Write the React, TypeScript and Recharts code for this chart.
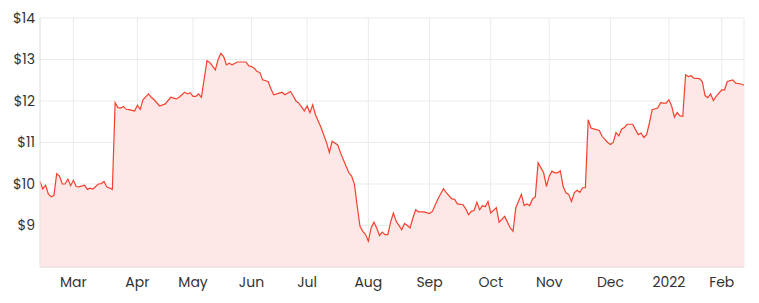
import React from 'react';
import { AreaChart, Area, XAxis, YAxis, CartesianGrid } from 'recharts';

// trading-day index (0 = mid Feb 2021) and closing price
const days = [
  0, 1, 2, 3, 4, 5, 6, 7, 8, 9, 10, 11, 12, 13, 14, 16, 17, 18, 19, 21, 22, 23, 24, 26,
  27, 28, 29, 30, 31, 32, 34, 35, 36, 37, 39, 40, 41, 43, 45, 47, 48, 49, 50, 52, 53, 54,
  55, 56, 57, 58, 60, 61, 63, 64, 65, 66, 67, 68, 69, 71, 72, 74, 75, 76, 77, 78, 79, 80,
  82, 83, 84, 86, 87, 88, 90, 91, 92, 93, 95, 96, 97, 98, 99, 101, 103, 104, 105, 107,
  108, 110, 111, 112, 113, 114, 115, 116, 117, 118, 119, 120, 121, 122, 123, 124, 125,
  126, 127, 128, 130, 131, 132, 133, 134, 135, 136, 138, 140, 141, 143, 145, 146, 148,
  149, 150, 152, 153, 154, 155, 156, 157, 158, 159, 160, 161, 162, 164, 165, 167, 169,
  170, 171, 173, 174, 175, 176, 177, 178, 179, 181, 182, 183, 184, 185, 186, 187, 188,
  189, 190, 191, 192, 193, 194, 195, 196, 197, 198, 199, 201, 202, 204, 205, 206, 207,
  208, 209, 210, 211, 213, 214, 215, 216, 217, 218, 219, 220, 222, 223, 224, 225, 226,
  227, 228, 229, 230, 231, 232, 233, 234, 235, 237, 238, 239, 240, 241, 242, 243, 245,
  246, 247, 249, 250, 252, 253,
];

const prices = [
  10.06, 9.88, 9.97, 9.76, 9.69, 9.72, 10.25, 10.19, 10.0, 10.0, 10.12, 9.96, 10.09, 9.94,
  9.93, 9.97, 9.87, 9.9, 9.88, 10.0, 10.01, 10.06, 9.93, 9.87,
  11.96, 11.84, 11.83, 11.87, 11.8, 11.79, 11.76, 11.9, 11.8, 12.03, 12.17, 12.09, 12.03,
  11.88, 11.93, 12.09, 12.07, 12.05, 12.09, 12.21, 12.17, 12.2,
  12.11, 12.11, 12.17, 12.09, 12.97, 12.93, 12.75, 13.0, 13.15, 13.07, 12.87, 12.91, 12.87,
  12.94, 12.94, 12.94, 12.85, 12.83, 12.79, 12.71, 12.69, 12.51,
  12.47, 12.29, 12.15, 12.19, 12.21, 12.15, 12.23, 12.12, 12.0, 11.95, 11.76, 11.88, 11.72,
  11.91, 11.67, 11.36, 10.99, 10.76, 11.03, 10.94,
  10.75, 10.43, 10.27, 10.19, 9.99, 9.46, 8.98, 8.86, 8.78, 8.62, 8.94, 9.08, 8.94, 8.76,
  8.84, 8.78, 8.78,
  9.08, 9.3, 9.1, 8.9, 9.05, 9.0, 8.94, 9.18, 9.38, 9.33, 9.33, 9.29, 9.34, 9.64, 9.89,
  9.79, 9.64,
  9.63, 9.52, 9.5, 9.4, 9.26, 9.34, 9.36, 9.56, 9.38, 9.48, 9.45, 9.58, 9.3, 9.43, 9.08,
  9.22, 8.94,
  8.86, 9.43, 9.75, 9.48, 9.52, 9.48, 9.64, 9.69, 10.51, 10.27, 9.94, 10.19, 10.31, 10.27,
  10.27, 10.32, 9.94,
  9.79, 9.75, 9.58, 9.79, 9.85, 9.8, 9.91, 9.91, 11.55, 11.35, 11.33, 11.29, 11.15, 11.0,
  10.95, 11.0, 11.24,
  11.16, 11.32, 11.36, 11.44, 11.44, 11.31, 11.19, 11.23, 11.12, 11.19, 11.47, 11.79, 11.83,
  11.96, 11.95, 11.95, 12.03,
  11.88, 11.61, 11.72, 11.64, 11.63, 12.63, 12.59, 12.61, 12.55, 12.54, 12.47, 12.13, 12.08,
  12.17, 12.01, 12.11, 12.27,
  12.27, 12.47, 12.51, 12.43, 12.41, 12.38,
];

const monthTicks = [12, 35, 55, 76, 96, 118, 140, 162, 183, 205, 226, 245];
const monthLabels = ['Mar', 'Apr', 'May', 'Jun', 'Jul', 'Aug', 'Sep', 'Oct', 'Nov', 'Dec', '2022', 'Feb'];
const priceTicks = [9, 10, 11, 12, 13, 14];

const data = days.map((d, i) => ({ day: d, price: prices[i] }));

const font = 'Poppins, Inter, sans-serif';

export default function App() {
  return (
    <div style={{ position: 'absolute', left: 0, top: 0, background: '#fff' }}>
      <AreaChart
        width={759}
        height={303}
        data={data}
        margin={{ top: 18, right: 15, left: 0, bottom: 0 }}
      >
        <CartesianGrid stroke="#ebebeb" strokeWidth={1} />
        <XAxis
          dataKey="day"
          type="number"
          domain={[0, 253]}
          ticks={monthTicks}
          tickFormatter={(v) => monthLabels[monthTicks.indexOf(v)]}
          height={36}
          tickLine={false}
          axisLine={{ stroke: '#ead9d9' }}
          tickSize={6}
          tickMargin={4}
          tick={{ fontSize: 14, fill: '#333', fontFamily: font }}
        />
        <YAxis
          domain={[8, 14]}
          ticks={priceTicks}
          width={40}
          tickLine={false}
          axisLine={{ stroke: '#e6e6e6' }}
          tickSize={3}
          tickMargin={2}
          tickFormatter={(v) => `$${v}`}
          tick={{ fontSize: 14, fill: '#333', fontFamily: font }}
        />
        <Area
          type="linear"
          dataKey="price"
          stroke="#f4412d"
          strokeWidth={1.2}
          fill="#fde7e7"
          fillOpacity={1}
          isAnimationActive={false}
          dot={false}
          activeDot={false}
        />
      </AreaChart>
    </div>
  );
}
